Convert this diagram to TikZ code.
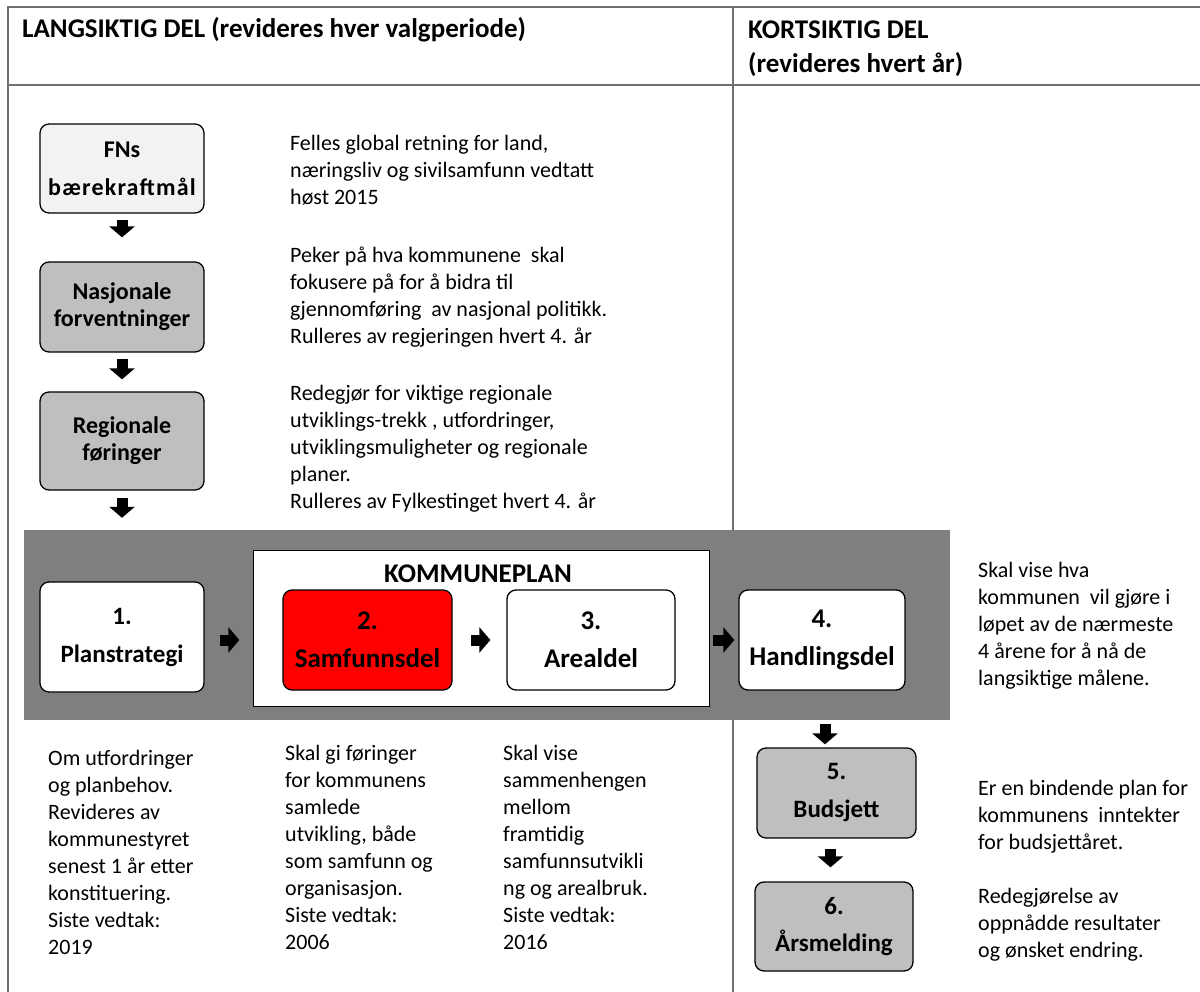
\documentclass[tikz,border=0pt]{standalone}
\usepackage{fontspec}
\setmainfont{Carlito}
\usetikzlibrary{arrows.meta}

\definecolor{framegray}{HTML}{707070}
\definecolor{bandgray}{HTML}{7F7F7F}
\definecolor{boxgray}{HTML}{BFBFBF}
\definecolor{boxlight}{HTML}{F2F2F2}
\definecolor{planred}{HTML}{FF0000}

\begin{document}
\begin{tikzpicture}[x=1pt,y=-1pt,
    planbox/.style={draw=black, line width=1.3pt, rounded corners=9pt, align=center, inner sep=0pt,
        font=\bfseries\fontsize{24}{27}\selectfont},
    bigbox/.style={planbox, font=\bfseries\fontsize{27}{32}\selectfont},
    midbox/.style={planbox, font=\bfseries\fontsize{25}{29}\selectfont},
    notetext/.style={anchor=north west, align=left, inner sep=0pt, font=\fontsize{22}{27}\selectfont},
    blk/.style={line width=11pt, -{Triangle[width=25pt,length=11pt]}},
    framelne/.style={line width=1.6pt, draw=framegray}]
    \useasboundingbox (0,0) rectangle (1200,992);

    % ramme og overskrifter
    \draw[framelne] (8,992) -- (8,7) -- (1200,7);
    \draw[framelne] (8,85) -- (1200,85);
    \draw[framelne] (733,7) -- (733,992);
    \node[anchor=base west, inner sep=0pt, font=\bfseries\fontsize{27}{34}\selectfont] (langhead) at (22,38) {LANGSIKTIG DEL (revideres hver valgperiode)};
    \node[anchor=north west, align=left, inner sep=0pt, font=\bfseries\fontsize{27}{34}\selectfont] (korthead) at (748,21) {KORTSIKTIG DEL\\(revideres hvert år)};

    % overordnede føringer
    \node[planbox, fill=boxlight, minimum width=164pt, minimum height=89pt] (fns) at (122,168.5) {FNs\\[11pt]{\addfontfeature{LetterSpace=5}bærekraftmål}};
    \node[planbox, fill=boxgray, minimum width=164pt, minimum height=90pt] (nasj) at (122,307) {Nasjonale\\forventninger};
    \node[planbox, fill=boxgray, minimum width=164pt, minimum height=98pt] (reg) at (122,441) {Regionale\\føringer};

    \node[notetext] (fnsnote) at (290,135) {Felles global retning for land,\\næringsliv og sivilsamfunn vedtatt\\høst 2015};
    \node[notetext] (nasjnote) at (290,247) {Peker på hva kommunene\ \ skal\\fokusere på for å bidra til\\gjennomføring\ \ av nasjonal politikk.\\Rulleres av regjeringen hvert 4. år};
    \node[notetext] (regnote) at (290,385) {Redegjør for viktige regionale\\utviklings-trekk , utfordringer,\\utviklingsmuligheter og regionale\\planer.\\Rulleres av Fylkestinget hvert 4. år};

    % plansystemet
    \node[fill=bandgray, inner sep=0pt, minimum width=926pt, minimum height=190pt] (band) at (487,625) {};
    \node[draw=black, line width=0.8pt, fill=white, inner sep=0pt, minimum width=456pt, minimum height=156pt] (kplan) at (481,628) {};
    \node[font=\bfseries\fontsize{27}{32}\selectfont] (kptitle) at (478,574) {KOMMUNEPLAN};

    \node[midbox, fill=white, minimum width=164pt, minimum height=110pt] (p1) at (122,637) {1.\\[9pt]Planstrategi};
    \node[bigbox, fill=planred, minimum width=169pt, minimum height=100pt] (p2) at (367.5,640) {2.\\[6pt]Samfunnsdel};
    \node[bigbox, fill=white, minimum width=168pt, minimum height=100pt] (p3) at (591,640) {3.\\[6pt]Arealdel};
    \node[bigbox, fill=white, minimum width=166pt, minimum height=100pt] (p4) at (822,640) {4.\\[6pt]Handlingsdel};
    \node[midbox, fill=boxgray, minimum width=159pt, minimum height=90pt] (p5) at (836.5,793) {5.\\[9pt]Budsjett};
    \node[midbox, fill=boxgray, minimum width=158pt, minimum height=89pt] (p6) at (834,926.5) {6.\\[8pt]Årsmelding};

    \node[notetext] (p1note) at (48,750) {Om utfordringer\\og planbehov.\\Revideres av\\kommunestyret\\senest 1 år etter\\konstituering.\\Siste vedtak:\\2019};
    \node[notetext] (p2note) at (285,745) {Skal gi føringer\\for kommunens\\samlede\\utvikling, både\\som samfunn og\\organisasjon.\\Siste vedtak:\\2006};
    \node[notetext] (p3note) at (503,745) {Skal vise\\sammenhengen\\mellom\\framtidig\\samfunnsutvikli\\ng og arealbruk.\\Siste vedtak:\\2016};
    \node[notetext] (p4note) at (978,562) {Skal vise hva\\kommunen\ \ vil gjøre i\\løpet av de nærmeste\\4 årene for å nå de\\langsiktige målene.};
    \node[notetext] (p5note) at (978,780) {Er en bindende plan for\\kommunens\ \ inntekter\\for budsjettåret.};
    \node[notetext] (p6note) at (978,888) {Redegjørelse av\\oppnådde resultater\\og ønsket endring.};

    % piler
    \draw[blk, shorten <=6pt, shorten >=24pt] (fns.south) -- (nasj.north);
    \draw[blk, shorten <=6pt, shorten >=12pt] (nasj.south) -- (reg.north);
    \draw[blk, shorten <=7pt, shorten >=12pt] (reg.south) -- (reg.south |- band.north);
    \draw[blk, shorten <=15pt, shorten >=43pt] (p1.east |- p2.west) -- (p2.west);
    \draw[blk, shorten <=18pt, shorten >=16pt] (p2.east) -- (p3.west);
    \draw[blk, shorten <=37pt, shorten >=4pt] (p3.east) -- (p4.west);
    \draw[blk, shorten <=33pt, shorten >=3pt] ([xshift=3pt]p4.south) -- ([xshift=3pt]p4.south |- p5.north);
    \draw[blk, shorten <=10pt, shorten >=14pt] ([xshift=-6pt]p5.south) -- ([xshift=-6pt]p5.south |- p6.north);
\end{tikzpicture}
\end{document}
